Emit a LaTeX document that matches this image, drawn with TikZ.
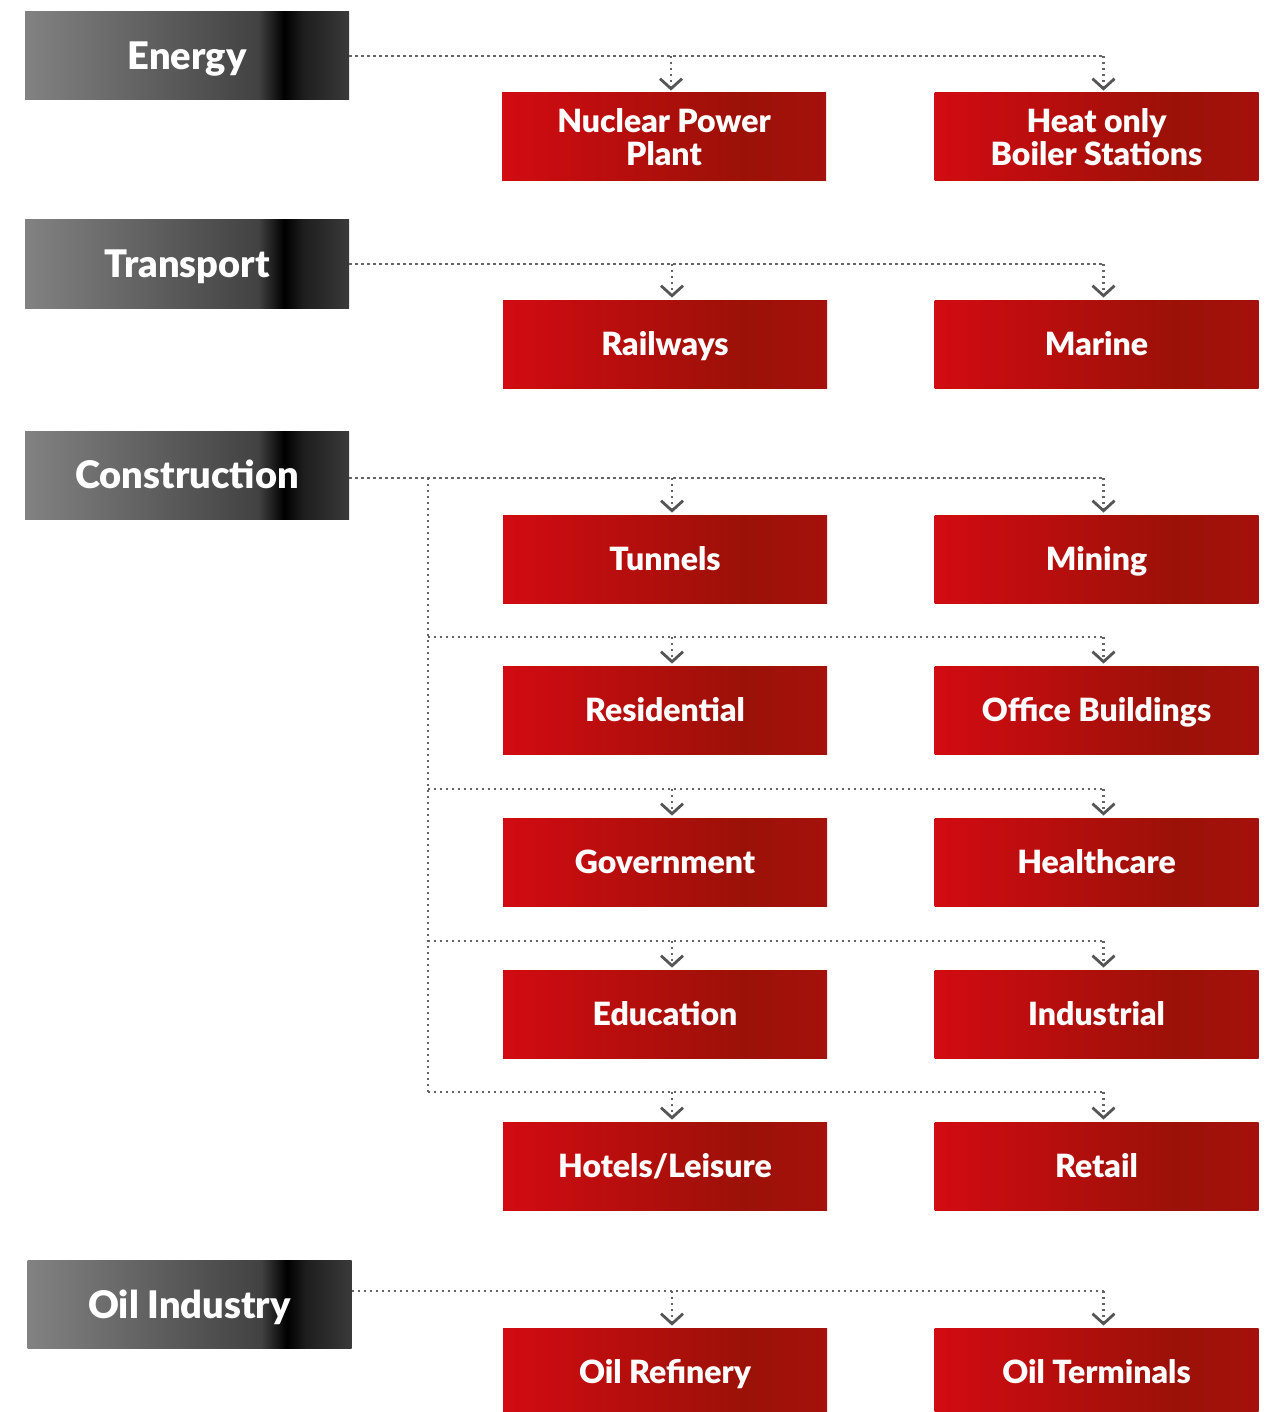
\documentclass[tikz,border=0pt]{standalone}
\usepackage{fontspec}
\setmainfont{Lato}[BoldFont={Lato Black}]
\usetikzlibrary{arrows.meta}

\definecolor{greyA}{RGB}{130,130,130}
\definecolor{greyB}{RGB}{66,66,66}
\definecolor{greyC}{RGB}{30,30,30}
\definecolor{greyD}{RGB}{58,58,58}
\definecolor{redA}{RGB}{210,11,18}
\definecolor{redB}{RGB}{155,17,8}
\definecolor{redC}{RGB}{165,17,12}
\definecolor{dotgrey}{RGB}{100,100,100}
\definecolor{tipgrey}{RGB}{85,85,85}

\pgfdeclarehorizontalshading{greybar}{100bp}{color(0bp)=(greyA); color(25bp)=(greyA); color(61bp)=(greyB); color(65bp)=(black); color(68bp)=(greyC); color(75bp)=(greyD); color(100bp)=(greyD)}
\pgfdeclarehorizontalshading{redbar}{100bp}{color(0bp)=(redA); color(25bp)=(redA); color(62bp)=(redB); color(75bp)=(redC); color(100bp)=(redC)}

\tikzset{
  sector/.style={shading=greybar, minimum width=162pt, minimum height=44pt, inner sep=0pt,
    text=white, text height=13.7pt, text depth=0pt, font=\bfseries\fontsize{19}{20}\selectfont},
  item/.style={shading=redbar, minimum width=162pt, minimum height=44pt, inner sep=0pt,
    text=white, align=center, text height=11.5pt, text depth=0pt,
    font=\bfseries\fontsize{16}{16.5}\selectfont},
  twoline/.style={text height={}, text depth={}},
  link/.style={dotgrey, line width=1.2pt, dash pattern=on 1.2pt off 1.8pt},
  drop/.style={link, shorten >=1pt, -{Straight Barb[length=5pt,width=11pt,line width=1.4pt,color=tipgrey]}},
}

\begin{document}
\begin{tikzpicture}[x=0.5pt,y=-0.5pt]
\useasboundingbox (0,0) rectangle (1268,1412);

% sectors
\node[sector] (energy) at (187,56) {Energy};
\node[sector] (transport) at (187,264) {Transport};
\node[sector] (construction) at (187,475) {Construction};
\node[sector] (oil) at (189.5,1304.5) {Oil Industry};

% energy
\node[item,twoline] (nuclear) at (664,137) {Nuclear Power\\Plant};
\node[item,twoline] (heat) at (1096.5,137) {Heat only\\Boiler Stations};
\path[draw,link] (energy.east) -- ([xshift=3.5pt]heat.north |- energy.east);
\path[draw,drop] ([xshift=3.5pt]nuclear.north |- energy.east) -- ([xshift=3.5pt]nuclear.north);
\path[draw,drop] ([xshift=3.5pt]heat.north |- energy.east) -- ([xshift=3.5pt]heat.north);

% transport
\node[item] (railways) at (665,344) {Railways};
\node[item] (marine) at (1096.5,344) {Marine};
\path[draw,link] (transport.east) -- ([xshift=3.5pt]marine.north |- transport.east);
\path[draw,drop] ([xshift=3.5pt]railways.north |- transport.east) -- ([xshift=3.5pt]railways.north);
\path[draw,drop] ([xshift=3.5pt]marine.north |- transport.east) -- ([xshift=3.5pt]marine.north);

% construction
\node[item] (tunnels) at (665,559) {Tunnels};
\node[item] (mining) at (1096.5,559) {Mining};
\node[item] (residential) at (665,710) {Residential};
\node[item] (office) at (1096.5,710) {Office Buildings};
\node[item] (government) at (665,862) {Government};
\node[item] (healthcare) at (1096.5,862) {Healthcare};
\node[item] (education) at (665,1014) {Education};
\node[item] (industrial) at (1096.5,1014) {Industrial};
\node[item] (hotels) at (665,1166) {Hotels/Leisure};
\node[item] (retail) at (1096.5,1166) {Retail};

\coordinate (c0) at (428,478);
\coordinate (c1) at (428,637);
\coordinate (c2) at (428,789);
\coordinate (c3) at (428,941);
\coordinate (c4) at (428,1092);
\path[draw,link] (construction.east |- c0) -- ([xshift=3.5pt]mining.north |- c0);
\path[draw,link] (c0) -- (c4);
\path[draw,link] (c1) -- ([xshift=3.5pt]office.north |- c1);
\path[draw,link] (c2) -- ([xshift=3.5pt]healthcare.north |- c2);
\path[draw,link] (c3) -- ([xshift=3.5pt]industrial.north |- c3);
\path[draw,link] (c4) -- ([xshift=3.5pt]retail.north |- c4);
\path[draw,drop] ([xshift=3.5pt]tunnels.north |- c0) -- ([xshift=3.5pt]tunnels.north);
\path[draw,drop] ([xshift=3.5pt]mining.north |- c0) -- ([xshift=3.5pt]mining.north);
\path[draw,drop] ([xshift=3.5pt]residential.north |- c1) -- ([xshift=3.5pt]residential.north);
\path[draw,drop] ([xshift=3.5pt]office.north |- c1) -- ([xshift=3.5pt]office.north);
\path[draw,drop] ([xshift=3.5pt]government.north |- c2) -- ([xshift=3.5pt]government.north);
\path[draw,drop] ([xshift=3.5pt]healthcare.north |- c2) -- ([xshift=3.5pt]healthcare.north);
\path[draw,drop] ([xshift=3.5pt]education.north |- c3) -- ([xshift=3.5pt]education.north);
\path[draw,drop] ([xshift=3.5pt]industrial.north |- c3) -- ([xshift=3.5pt]industrial.north);
\path[draw,drop] ([xshift=3.5pt]hotels.north |- c4) -- ([xshift=3.5pt]hotels.north);
\path[draw,drop] ([xshift=3.5pt]retail.north |- c4) -- ([xshift=3.5pt]retail.north);

% oil industry
\node[item] (refinery) at (665,1372) {Oil Refinery};
\node[item] (terminals) at (1096.5,1372) {Oil Terminals};
\path[draw,link] (oil.east |- 0,1291) -- ([xshift=3.5pt]terminals.north |- 0,1291);
\path[draw,drop] ([xshift=3.5pt]refinery.north |- 0,1291) -- ([xshift=3.5pt]refinery.north);
\path[draw,drop] ([xshift=3.5pt]terminals.north |- 0,1291) -- ([xshift=3.5pt]terminals.north);
\end{tikzpicture}
\end{document}
